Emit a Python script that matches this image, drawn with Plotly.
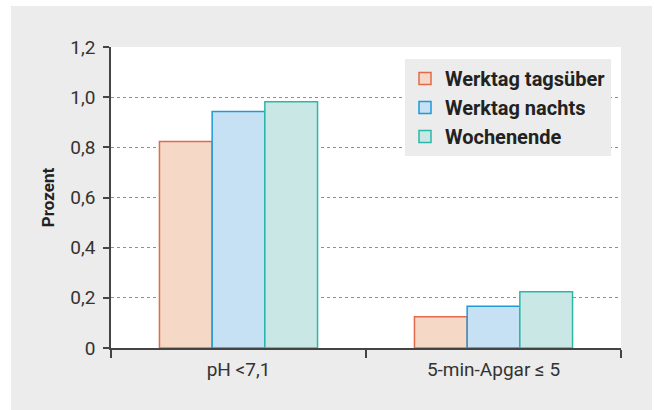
import plotly.graph_objects as go

categories = ["pH <7,1", "5-min-Apgar ≤ 5"]
series_names = ["Werktag tagsüber", "Werktag nachts", "Wochenende"]
werktag_tag = [0.823, 0.125]
werktag_nacht = [0.943, 0.166]
wochenende = [0.982, 0.224]
y_tickvals = [0, 0.2, 0.4, 0.6, 0.8, 1.0, 1.2]
y_ticktext = ["0", "0,2", "0,4", "0,6", "0,8", "1,0", "1,2"]

fills = ["#f6d8c7", "#c6e1f4", "#c9e7e4"]
edges = ["#e2694a", "#1d9ad8", "#2db7a9"]
values = [werktag_tag, werktag_nacht, wochenende]

FONT = "Roboto, Lato, sans-serif"
W, H = 654, 410
L, R, T, B = 111, 33, 47, 62

fig = go.Figure()
for name, vals, fc, ec in zip(series_names, values, fills, edges):
    fig.add_trace(go.Bar(
        x=categories, y=vals, name=name,
        marker=dict(color=fc, line=dict(color=ec, width=1.5)),
    ))

pw = W - L - R
ph = H - T - B
def px_x(x):
    return (x - L) / pw
def px_y(y):
    return (H - B - y) / ph

shapes = [
    dict(type="rect", xref="paper", yref="paper", x0=px_x(0), x1=px_x(11), y0=px_y(410), y1=px_y(0),
         fillcolor="white", line=dict(width=0), layer="above"),
    dict(type="rect", xref="paper", yref="paper", x0=px_x(0), x1=px_x(654), y0=px_y(6), y1=px_y(0),
         fillcolor="white", line=dict(width=0), layer="above"),
    dict(type="rect", xref="paper", yref="paper", x0=px_x(652), x1=px_x(654), y0=px_y(410), y1=px_y(0),
         fillcolor="white", line=dict(width=0), layer="above"),
]

fig.update_layout(
    width=W, height=H,
    margin=dict(l=L, r=R, t=T, b=B, pad=0),
    paper_bgcolor="#ebeceb",
    plot_bgcolor="white",
    barmode="group",
    bargap=0.38,
    bargroupgap=0,
    font=dict(family=FONT, size=19, color="#333333"),
    shapes=shapes,
    showlegend=True,
    legend=dict(
        x=px_x(405), y=px_y(59), xanchor="left", yanchor="top",
        bgcolor="#ebeceb", borderwidth=0,
        font=dict(family=FONT, size=20, color="#222222", weight="bold"),
        itemwidth=30, tracegroupgap=0,
    ),
)

fig.update_xaxes(
    type="category",
    showline=True, linecolor="#444444", linewidth=1.5,
    ticks="outside", tickson="boundaries", ticklen=8, tickwidth=1.5, tickcolor="#444444",
    showgrid=False,
    ticklabelstandoff=3,
    tickfont=dict(size=19, color="#333333"),
)
fig.update_yaxes(
    range=[0, 1.2],
    tickvals=y_tickvals, ticktext=y_ticktext,
    showline=True, linecolor="#444444", linewidth=1.5,
    ticks="outside", ticklen=6, tickwidth=1.5, tickcolor="#444444",
    showgrid=True, gridcolor="#8f8f8f", griddash="dot", gridwidth=1,
    zeroline=False,
    ticklabelstandoff=4,
    tickfont=dict(size=19, color="#333333"),
    title=dict(text="<b>Prozent</b>", font=dict(size=17, color="#222222"), standoff=11),
)

fig.write_html("out.html", config={"displayModeBar": False},
               post_script="document.body.style.margin='0';document.body.style.overflow='hidden';")
